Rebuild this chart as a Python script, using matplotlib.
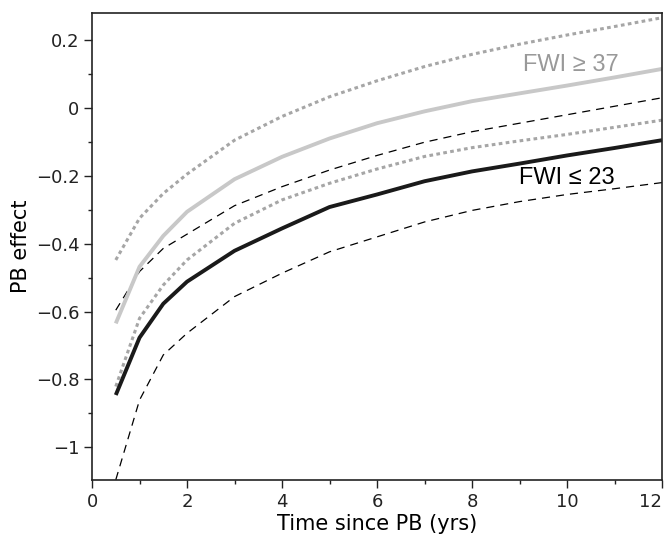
import matplotlib
matplotlib.use("Agg")
import matplotlib.pyplot as plt
from matplotlib.ticker import MultipleLocator, FuncFormatter

# time since prescribed burn (yrs)
years = [0.5, 1, 1.5, 2, 3, 4, 5, 6, 7, 8, 9, 10, 11, 12]

# low fire weather (FWI <= 23)
low_mean = [-0.846, -0.677, -0.577, -0.512, -0.421, -0.355, -0.292, -0.255, -0.216, -0.187, -0.164, -0.140, -0.118, -0.095]
low_upper = [-0.596, -0.482, -0.414, -0.372, -0.288, -0.232, -0.183, -0.140, -0.101, -0.070, -0.045, -0.020, 0.005, 0.030]
low_lower = [-1.096, -0.861, -0.728, -0.664, -0.556, -0.487, -0.424, -0.380, -0.336, -0.302, -0.276, -0.255, -0.238, -0.220]

# high fire weather (FWI >= 37)
high_mean = [-0.635, -0.468, -0.377, -0.306, -0.210, -0.144, -0.090, -0.045, -0.010, 0.020, 0.043, 0.066, 0.090, 0.115]
high_upper = [-0.448, -0.325, -0.252, -0.195, -0.095, -0.025, 0.033, 0.080, 0.122, 0.158, 0.188, 0.215, 0.240, 0.266]
high_lower = [-0.821, -0.620, -0.522, -0.448, -0.340, -0.271, -0.222, -0.180, -0.143, -0.117, -0.097, -0.078, -0.057, -0.036]

xticks = [0, 2, 4, 6, 8, 10, 12]

fig = plt.figure(figsize=(6.64, 5.38), dpi=100)
ax = fig.add_axes([0.1386, 0.1069, 0.8584, 0.869])

ax.plot(years, high_upper, color="#a6a6a6", lw=2.2, ls=(0, (1.2, 1.1)))
ax.plot(years, high_lower, color="#a6a6a6", lw=2.2, ls=(0, (1.2, 1.1)))
ax.plot(years, low_upper, color="black", lw=0.9, ls=(0, (6.5, 4.8)))
ax.plot(years, low_lower, color="black", lw=0.9, ls=(0, (6.5, 4.8)))
ax.plot(years, high_mean, color="#c8c8c8", lw=2.8, solid_capstyle="butt")
ax.plot(years, low_mean, color="#1a1a1a", lw=2.8, solid_capstyle="butt")

ax.text(10.08, 0.126, "FWI \u2265 37", color="#999999", fontsize=17,
        family="Liberation Sans", ha="center", va="center")
ax.text(10.0, -0.207, "FWI \u2264 23", color="black", fontsize=17,
        family="Liberation Sans", ha="center", va="center")

ax.set_xlim(0, 12)
ax.set_ylim(-1.098, 0.28)
ax.set_xticks(xticks)
ax.xaxis.set_minor_locator(MultipleLocator(1))
ax.yaxis.set_major_locator(MultipleLocator(0.2))
ax.yaxis.set_minor_locator(MultipleLocator(0.1))

fmt = FuncFormatter(lambda v, p: ("%g" % round(v, 2)).replace("-", "\u2212"))
ax.xaxis.set_major_formatter(fmt)
ax.yaxis.set_major_formatter(fmt)

ax.tick_params(which="both", direction="out", top=False, right=False,
               labelsize=13, width=1, colors="#222222", pad=3)
ax.tick_params(which="major", length=6)
ax.tick_params(which="minor", length=3)
for s in ax.spines.values():
    s.set_linewidth(1.2)
    s.set_color("#222222")

# last x label sits at the figure edge, keep it inside
ax.xaxis.get_major_ticks()[-1].label1.set_horizontalalignment("right")

ax.set_xlabel("Time since PB (yrs)", fontsize=15)
ax.set_ylabel("PB effect", fontsize=15)
ax.xaxis.set_label_coords(0.5, -0.071)
ax.yaxis.set_label_coords(-0.124, 0.5)
ax.xaxis.label.set_va("top")
ax.yaxis.label.set_va("center")

fig.savefig("out.png", dpi=100)
